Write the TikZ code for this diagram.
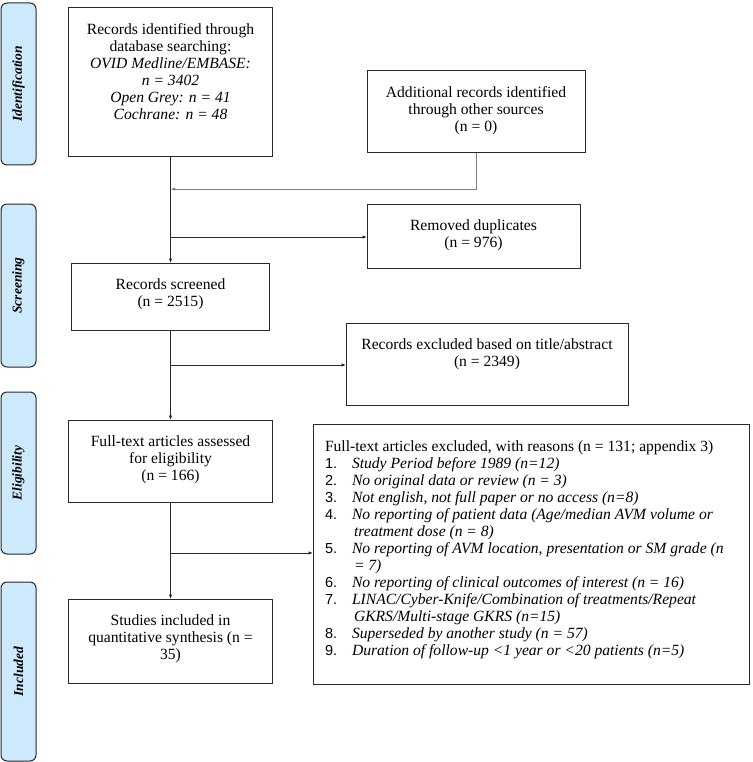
\documentclass[tikz,border=0pt]{standalone}
\usepackage{fontspec}
\setmainfont{Liberation Serif}
\newfontfamily\numfont{Liberation Sans}
\usetikzlibrary{arrows.meta}
\definecolor{stagefill}{RGB}{205,233,252}
\definecolor{linecol}{RGB}{40,40,40}
\newcommand\bxt[3]{\parbox[c][#2][t]{#1}{\centering\vspace*{15pt}\strut #3}}
\newcommand\nm[1]{\makebox[27pt][l]{\numfont\fontsize{14.5}{17}\selectfont #1}}
\tikzset{
  bx/.style={draw=linecol, line width=1pt, inner sep=0pt, outer sep=0pt,
    font=\fontsize{15.6}{17}\selectfont},
  stage/.style={draw=linecol, line width=1pt, fill=stagefill, rounded corners=6pt,
    rotate=90, minimum height=35pt, inner sep=0pt, outer sep=0pt,
    font=\fontsize{13.5}{16}\selectfont\bfseries\itshape},
  ln/.style={draw=linecol, line width=0.9pt},
  arr/.style={ln, -{Latex[length=4.5pt,width=3.5pt]}},
}
\begin{document}
\begin{tikzpicture}[x=1pt,y=-1pt]
\useasboundingbox (0,0) rectangle (752,762);
% stage labels
\node[stage, minimum width=162pt] (s1) at (18.5,84) {Identification};
\node[stage, minimum width=163pt] (s2) at (18.5,285.5) {Screening};
\node[stage, minimum width=162pt] (s3) at (18.5,473) {Eligibility};
\node[stage, minimum width=179pt] (s4) at (18.5,671.5) {Included};
% boxes
\node[bx] (b1) at (170.5,82.5) {\bxt{204pt}{149pt}{Records identified through\\ database searching:\\ \textit{OVID Medline/EMBASE:}\\ \textit{n = 3402}\\ \textit{Open Grey: n = 41}\\ \textit{Cochrane: n = 48}}};
\node[bx] (b2) at (476,112) {\bxt{218pt}{82pt}{Additional records identified\\ through other sources\\ (n = 0)}};
\node[bx] (b4) at (473.5,236) {\bxt{213pt}{64pt}{Removed duplicates\\ (n = 976)}};
\node[bx] (b3) at (170.5,296.5) {\bxt{198pt}{67pt}{Records screened\\ (n = 2515)}};
\node[bx] (b6) at (487,364) {\bxt{282pt}{82pt}{Records excluded based on title/abstract\\ (n = 2349)}};
\node[bx] (b5) at (170.5,461) {\bxt{204pt}{82pt}{Full-text articles assessed\\ for eligibility\\ (n = 166)}};
\node[bx] (b7) at (170.5,641) {\bxt{204pt}{84pt}{Studies included in\\ quantitative synthesis (n =\\ 35)}};
\node[bx] (b8) at (531,554) {\parbox[c][260pt][t]{436pt}{\raggedright\leftskip=12pt\vspace*{16pt}\strut Full-text articles excluded, with reasons (n = 131; appendix 3)\\
\nm{1.}\textit{Study Period before 1989 (n=12)}\\
\nm{2.}\textit{No original data or review (n = 3)}\\
\nm{3.}\textit{Not english, not full paper or no access (n=8)}\\
\nm{4.}\textit{No reporting of patient data (Age/median AVM volume or}\\
\hspace*{29pt}\textit{treatment dose (n = 8)}\\
\nm{5.}\textit{No reporting of AVM location, presentation or SM grade (n}\\
\hspace*{29pt}\textit{= 7)}\\
\nm{6.}\textit{No reporting of clinical outcomes of interest (n = 16)}\\
\nm{7.}\textit{LINAC/Cyber-Knife/Combination of treatments/Repeat}\\
\hspace*{29pt}\textit{GKRS/Multi-stage GKRS (n=15)}\\
\nm{8.}\textit{Superseded by another study (n = 57)}\\
\nm{9.}\textit{Duration of follow-up <1 year or <20 patients (n=5)}}};
% junctions
\coordinate (j1) at (170.5,189);
\coordinate (j2) at (170.5,237);
\coordinate (j3) at (170.5,365);
\coordinate (j4) at (170.5,553);
% connectors
\draw[arr] (b1.south) -- (b3.north);
\draw[arr, draw=gray] (b2.south) |- (j1);
\draw[arr] (j2) -- (j2 -| b4.west);
\draw[arr] (b3.south) -- (b5.north);
\draw[arr] (j3) -- (j3 -| b6.west);
\draw[arr] (b5.south) -- (b7.north);
\draw[arr] (j4) -- (j4 -| b8.west);
\end{tikzpicture}
\end{document}
